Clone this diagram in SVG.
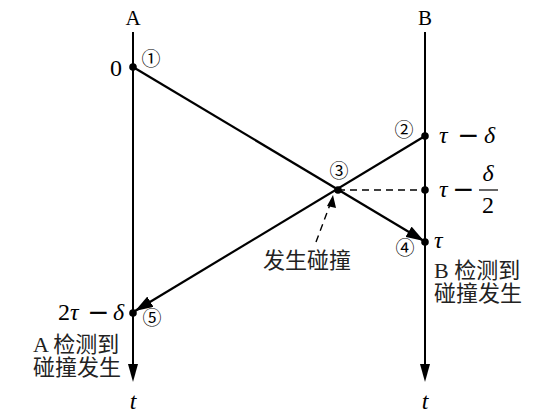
<svg xmlns="http://www.w3.org/2000/svg" width="540" height="416" viewBox="0 0 540 416">
<style>
.ln{stroke:#000;stroke-width:2.2;fill:none}
.ax{stroke:#000;stroke-width:2;fill:none}
.dash{stroke:#000;stroke-width:1.4;fill:none;stroke-dasharray:7,5}
.t{font-family:"Liberation Serif","Times New Roman",serif;font-size:21px;fill:#000}
.i{font-family:"Liberation Serif","Times New Roman",serif;font-size:24px;font-style:italic;fill:#000}
.m{font-family:"Liberation Serif","Times New Roman",serif;font-size:24px;fill:#000}
.mn{font-family:"Liberation Serif","Times New Roman",serif;font-size:34px;fill:#000;stroke:#000;stroke-width:0.6}
.c{font-family:"Liberation Serif","Noto Sans CJK SC",serif;font-size:22px;fill:#222}
.n{font-family:"Noto Sans CJK SC",sans-serif;font-size:19px;fill:#000}
</style>
<defs>
<marker id="ah2" markerWidth="20" markerHeight="12" refX="18" refY="6" orient="auto" markerUnits="userSpaceOnUse">
<path d="M0,0 L18,6 L0,12 Z" fill="#000"/>
</marker>
</defs>
<g id="axisA">
<line class="ax" x1="133" y1="32" x2="133" y2="368"/>
<path d="M128,364 L133,382 L138,364 Z" fill="#000"/>
<text class="t" x="133" y="25" text-anchor="middle">A</text>
<text class="i" x="133" y="409" text-anchor="middle">t</text>
</g>
<g id="axisB">
<line class="ax" x1="425" y1="32" x2="425" y2="368"/>
<path d="M420,364 L425,382 L430,364 Z" fill="#000"/>
<text class="t" x="425" y="25" text-anchor="middle">B</text>
<text class="i" x="425" y="409" text-anchor="middle">t</text>
</g>
<g id="connectors">
<line class="ln" x1="133" y1="67" x2="424" y2="241" marker-end="url(#ah2)"/>
<line class="ln" x1="425" y1="136" x2="135" y2="311" marker-end="url(#ah2)"/>
<line class="dash" x1="338" y1="190" x2="425" y2="190"/>
<line class="dash" x1="316" y1="242" x2="331" y2="202"/>
<path d="M327,206 L333,195 L336,208 Z" fill="#000"/>
</g>
<g id="p1">
<circle cx="133" cy="67" r="3.8" fill="#000"/>
<text class="m" x="122" y="76" text-anchor="end">0</text>
<text class="n" x="151" y="66" text-anchor="middle">①</text>
</g>
<g id="p2">
<circle cx="425" cy="136" r="3.8" fill="#000"/>
<text class="n" x="404" y="137" text-anchor="middle">②</text>
<text class="i" x="439" y="143">τ</text>
<text class="mn" x="468" y="147" text-anchor="middle">−</text>
<text class="i" x="484" y="143">δ</text>
</g>
<g id="p3">
<circle cx="338" cy="190" r="3.8" fill="#000"/>
<text class="n" x="339" y="178" text-anchor="middle">③</text>
<text class="c" x="307" y="268" text-anchor="middle">发生碰撞</text>
</g>
<g id="pHalf">
<circle cx="425" cy="190" r="3.8" fill="#000"/>
<text class="i" x="439" y="197">τ</text>
<text class="mn" x="463" y="201" text-anchor="middle">−</text>
<text class="i" x="488" y="181" text-anchor="middle">δ</text>
<line x1="479" y1="190" x2="498" y2="190" stroke="#000" stroke-width="1.2"/>
<text class="m" x="488" y="213" text-anchor="middle">2</text>
</g>
<g id="p4">
<circle cx="425" cy="242" r="3.8" fill="#000"/>
<text class="n" x="405" y="255" text-anchor="middle">④</text>
<text class="i" x="434" y="248">τ</text>
<text class="c" x="434" y="278">B 检测到</text>
<text class="c" x="434" y="301">碰撞发生</text>
</g>
<g id="p5">
<circle cx="133" cy="313" r="3.8" fill="#000"/>
<text class="n" x="152" y="325" text-anchor="middle">⑤</text>
<text class="m" x="58" y="320">2<tspan font-style="italic">τ</tspan></text>
<text class="mn" x="98" y="324" text-anchor="middle">−</text>
<text class="i" x="113" y="320">δ</text>
<text class="c" x="33" y="352">A 检测到</text>
<text class="c" x="33" y="375">碰撞发生</text>
</g>
</svg>
